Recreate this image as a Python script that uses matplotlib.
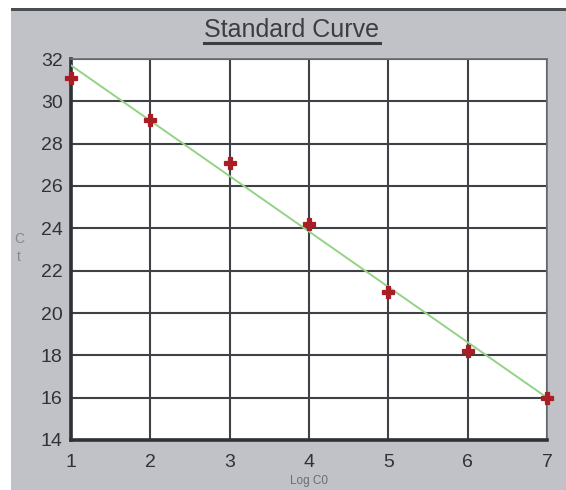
import matplotlib
matplotlib.use('Agg')
import matplotlib.pyplot as plt
from matplotlib.patches import Rectangle

# Meetpunten (Ct tegen Log C0)
log_c0 = [1, 2, 3, 4, 5, 6, 7]
ct_waarden = [31.1, 29.1, 27.1, 24.2, 21.0, 18.2, 16.0]

lijn_x = [1, 7]
lijn_y = [31.7, 16.0]

x_ticks = [1, 2, 3, 4, 5, 6, 7]
y_ticks = [14, 16, 18, 20, 22, 24, 26, 28, 30, 32]

plt.rcParams['font.family'] = ['Liberation Sans', 'DejaVu Sans']

W, H = 566, 490
fig = plt.figure(figsize=(W / 100, H / 100), dpi=100, facecolor='white')

# Grijze achtergrond met donkere rand bovenaan
fig.patches.append(Rectangle((11 / W, 0), 1 - 11 / W, (H - 10) / H,
                             transform=fig.transFigure, facecolor='#c1c2c7',
                             edgecolor='none', zorder=-2))
fig.patches.append(Rectangle((11 / W, (H - 11) / H), 1 - 11 / W, 2.5 / H,
                             transform=fig.transFigure, facecolor='#4a4d52',
                             edgecolor='none', zorder=-1))

ax = fig.add_axes([71 / W, (H - 440) / H, (547 - 71) / W, (440 - 59) / H])
ax.set_facecolor('white')

ax.plot(lijn_x, lijn_y, color='#94d386', linewidth=1.4, zorder=3)
ax.plot(log_c0, ct_waarden, linestyle='none', marker='P', markersize=8.5,
        color='#a81e24', markeredgecolor='#a81e24', markeredgewidth=0.9,
        zorder=4, clip_on=False)

ax.set_xlim(1, 7)
ax.set_ylim(14, 32)
ax.set_xticks(x_ticks)
ax.set_yticks(y_ticks)
ax.grid(True, color='#3e4146', linewidth=1.5)
ax.set_axisbelow(True)

for side in ['left', 'bottom']:
    ax.spines[side].set_color('#2e3135')
    ax.spines[side].set_linewidth(2.6)
for side in ['top', 'right']:
    ax.spines[side].set_color('#6a6d72')
    ax.spines[side].set_linewidth(1.2)

ax.tick_params(length=0, labelsize=14, labelcolor='#2f3236')
ax.tick_params(axis='x', pad=10)
ax.tick_params(axis='y', pad=6)

ax.set_xlabel('Log C0', fontsize=8.5, color='#6a6d72', labelpad=3)
fig.text(19 / W, 1 - 248 / H, 'C\nt', fontsize=10, color='#85888d',
         ha='center', va='center', linespacing=1.4)

fig.text(292 / W, 1 - 30 / H, 'Standard Curve', fontsize=18,
         color='#3a3d42', ha='center', va='center')
fig.add_artist(plt.Line2D([204 / W, 380 / W], [1 - 43 / H, 1 - 43 / H],
                          transform=fig.transFigure, color='#3a3d42', linewidth=2.2))

plt.savefig('out.png', dpi=100, facecolor=fig.get_facecolor())
plt.close()
